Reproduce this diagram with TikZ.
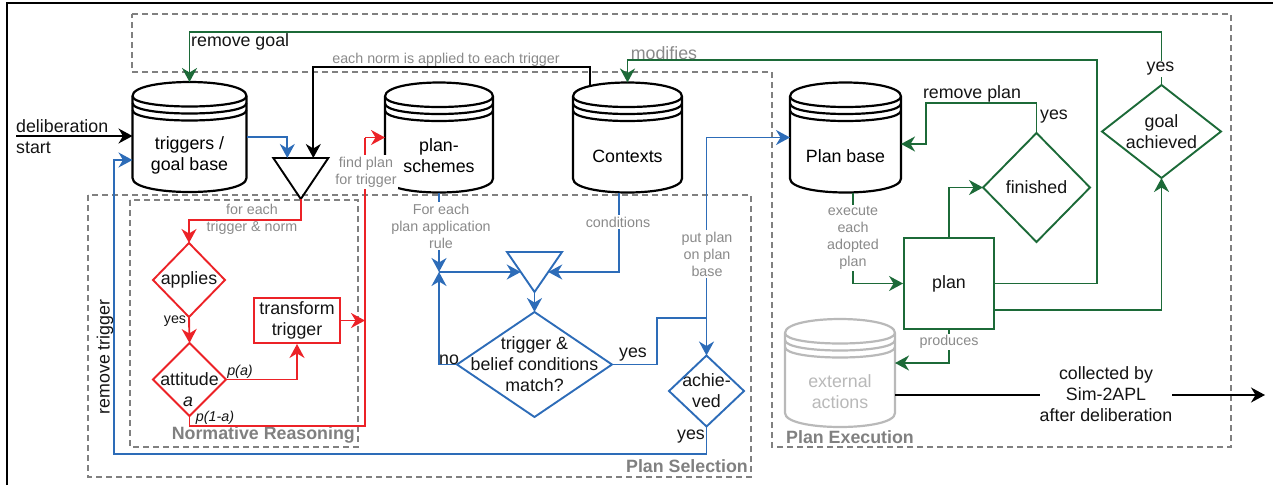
\documentclass[tikz,border=0pt]{standalone}
\usepackage{fontspec}
\setmainfont{Liberation Sans}
\usetikzlibrary{arrows.meta,calc}

\definecolor{cgreen}{RGB}{28,106,56}
\definecolor{cblue}{RGB}{45,108,184}
\definecolor{cred}{RGB}{236,34,39}
\definecolor{cgray}{RGB}{128,128,128}
\definecolor{clabel}{RGB}{138,138,138}
\definecolor{cpale}{RGB}{185,185,185}
\definecolor{ctext}{RGB}{20,20,20}

\newcommand\bigfont{\fontsize{17.8}{21}\selectfont}
\newcommand\smallfont{\fontsize{14.3}{17}\selectfont}

\tikzset{
  slot/.style={rectangle, draw=none, inner sep=0pt, outer sep=0pt},
  storetext/.style={font=\bigfont, align=center, inner sep=0pt},
  txt/.style={font=\bigfont, text=ctext, inner sep=1pt, align=center},
  lbl/.style={font=\smallfont, text=clabel, align=center, inner sep=1.5pt},
  region/.style={draw=cgray, line width=1.7pt, dash pattern=on 6pt off 4pt},
  regiontitle/.style={font=\bigfont\bfseries, text=cgray, inner sep=0pt},
  plain/.style={line width=1.9pt, line join=miter},
  flow/.style={plain, -{Stealth[length=14pt,width=15pt,inset=4.5pt]}},
  outline/.style={line width=1.9pt, line join=miter},
}

% data store drum: invisible slot node, drum outline, text set below the rims
\newcommand\datastore[6][black]{%
  \node[slot, minimum width=#4, minimum height=#5] (#2) at #3 {};
  \filldraw[fill=white, draw=#1, line width=2.2pt]
    ($(#2.north west)+(0,14)$) .. controls ($(#2.north west)+(0,-4.67)$) and ($(#2.north east)+(0,-4.67)$) .. ($(#2.north east)+(0,14)$)
    -- ($(#2.south east)+(0,-14)$) .. controls ($(#2.south east)+(0,4.67)$) and ($(#2.south west)+(0,4.67)$) .. ($(#2.south west)+(0,-14)$) -- cycle;
  \foreach \k in {0,7,14}{
    \draw[#1, line width=2.2pt] ($(#2.north west)+(0,14+\k)$) .. controls ($(#2.north west)+(0,28+\k)$) and ($(#2.north east)+(0,28+\k)$) .. ($(#2.north east)+(0,14+\k)$);}
  \node[storetext, text=#1] (#2-text) at ($(#2.center)+(0,18.5)$) {#6};
}
% decision rhombus through the four side midpoints of a slot node
\newcommand\rhomb[2][black]{\draw[outline, #1] (#2.north) -- (#2.east) -- (#2.south) -- (#2.west) -- cycle;}
% downward merge triangle
\newcommand\merge[2][black]{\draw[outline, #1] (#2.north west) -- (#2.north east) -- (#2.south) -- cycle;}

\begin{document}
\begin{tikzpicture}[x=1pt, y=-1pt]
\useasboundingbox (0,0) rectangle (1273,485);

% page frame
\draw[line width=2.5pt] (7,485) -- (7,3) -- (1273,3);

% regions
\draw[region] (132,14) -- (1231,14) -- (1231,447) -- (772,447) -- (772,72) -- (132,72) -- cycle;
\draw[region] (88,195) rectangle (751,477);
\draw[region] (130,200) rectangle (358,447);
\node[regiontitle, anchor=east] (t-norm) at (355,435) {Normative Reasoning};
\node[regiontitle, anchor=east] (t-sel) at (748,466) {Plan Selection};
\node[regiontitle, anchor=west] (t-exec) at (786,437) {Plan Execution};

% data stores
\datastore{tgb}{(189.5,137)}{114}{110}{triggers /\\goal base}
\datastore{ps}{(439,137.5)}{108}{110}{plan-\\schemes}
\datastore{ctx}{(627.5,137.5)}{109}{110}{Contexts}
\datastore{pb}{(845.5,137.5)}{111}{110}{Plan base}
\datastore[cpale]{ea}{(840,373)}{110}{108}{external\\actions}

% merge points
\node[slot, minimum width=55, minimum height=41] (tri) at (300.8,178.5) {};
\merge{tri}
\node[slot, minimum width=55, minimum height=40] (tri2) at (534.5,272) {};
\merge[cblue]{tri2}

% decisions
\node[slot, txt, inner sep=0pt, minimum width=72, minimum height=74] (app) at (189,280) {applies};
\rhomb[cred]{app}
\node[slot, txt, inner sep=0pt, minimum width=73, minimum height=73] (att) at (189.5,379.5) {attitude};
\rhomb[cred]{att}
\node[txt, font=\bigfont\itshape] (att-a) at (188,402) {a};
\node[slot, txt, inner sep=0pt, minimum width=155, minimum height=105] (mat) at (534.5,364.5) {trigger \&\\belief conditions\\match?};
\rhomb[cblue]{mat}
\node[slot, txt, inner sep=0pt, minimum width=75, minimum height=71] (ach) at (706.5,391) {achie-\\ved};
\rhomb[cblue]{ach}
\node[slot, txt, inner sep=0pt, minimum width=107, minimum height=109] (fin) at (1036.5,187.5) {finished};
\rhomb[cgreen]{fin}
\node[slot, txt, inner sep=0pt, minimum width=119, minimum height=93] (ga) at (1161.5,131.5) {goal\\achieved};
\rhomb[cgreen]{ga}

% processes
\node[txt, draw=cred, line width=1.9pt, inner sep=0pt, minimum width=86, minimum height=45] (tt) at (297,320.5) {transform\\trigger};
\node[txt, draw=cgreen, line width=1.9pt, inner sep=0pt, minimum width=90, minimum height=91] (plan) at (949,283.5) {plan};

% free ends and bends
\coordinate (ds) at (16,136);
\coordinate (j) at (439,272);
\coordinate (split) at (706.5,318);
\coordinate (rt) at (365,137.5);
\coordinate (out) at (1265,395);

% green: plan execution
\draw[flow, cgreen] (ga.north) |- ($(tgb.north)+(0,-50)$) -- (tgb.north);
\draw[flow, cgreen] (plan.east) -| (1097,60) -| (ctx.north);
\draw[flow, cgreen] ($(plan.east)+(0,26.5)$) -| (ga.south);
\draw[flow, cgreen] (plan.north) |- (fin.west);
\draw[flow, cgreen] (fin.north) |- (926,103) |- ($(pb.east)+(0,6.5)$);
\draw[flow, cgreen] ($(pb.south)+(7.5,0)$) |- (plan.west);
\draw[flow, cgreen] (plan.south) |- ($(ea.east)+(0,-10)$);

% black
\draw[flow] (ds) -- (ds -| tgb.west);
\draw[flow] ($(ctx.north)+(-37.5,3.4)$) |- ($(tri.north)+(12.5,-91)$) -- ($(tri.north)+(12.5,0)$);
\draw[flow] ($(ea.east)+(0,22)$) -- (out);

% blue: plan selection
\draw[flow, cblue] (tgb.east) -| ($(tri.north)+(-13.5,0)$);
\draw[flow, cblue] (ach.south) |- (114,454) |- ($(tgb.west)+(0,23)$);
\draw[flow, cblue] (ps.south) -- (j);
\draw[flow, cblue] (j) -- ($(tri2.north west)!0.5!(tri2.south)$);
\draw[flow, cblue] ($(ctx.south)+(-8.5,0)$) |- ($(tri2.north east)!0.5!(tri2.south)$);
\draw[flow, cblue] (tri2.south) -- (mat.north);
\draw[flow, cblue] (mat.west) -| (j);
\draw[plain, cblue] (mat.east) -| (657,318) -- (split);
\draw[flow, cblue] (split) -- (ach.north);
\draw[flow, cblue] (split) |- (pb.west);

% red: normative reasoning
\draw[flow, cred] (tri.south) |- ($(app.north)+(0,-23)$) -- (app.north);
\draw[flow, cred] (app.south) -- (att.north);
\draw[flow, cred] (att.east) -| (tt.south);
\draw[plain, cred] (att.south) |- (365,426) -- (rt);
\draw[flow, cred] (rt) -- (ps.west);
\draw[flow, cred] (tt.east) -- (tt.east -| rt);

% connector labels
\node[txt, anchor=west] (l-rg) at (190,42) {remove goal};
\node[lbl] (l-norm) at (446,60) {each norm is applied to each trigger};
\node[txt, text=clabel] (l-mod) at (664,53) {modifies};
\node[txt] (l-rp) at (972,94) {remove plan};
\node[txt] (l-yf) at (1054,117) {yes};
\node[txt, fill=white] (l-yg) at (1160.5,69) {yes};
\node[txt, anchor=west, align=left, inner sep=0pt] (l-ds) at (16,136.5) {deliberation\\start};
\node[lbl, fill=white] (l-find) at (366,172) {find plan\\for trigger};
\node[lbl] (l-each) at (252,219) {for each\\trigger \& norm};
\node[lbl, fill=white] (l-rule) at (441,226) {For each\\plan application\\rule};
\node[lbl, fill=white] (l-cond) at (618,222) {conditions};
\node[lbl, fill=white] (l-put) at (707,254) {put plan\\on plan\\base};
\node[lbl, fill=white] (l-exe) at (853,238) {execute\\each\\adopted\\plan};
\node[lbl, fill=white] (l-prod) at (949,342) {produces};
\node[txt] (l-ym) at (633,355) {yes};
\node[txt] (l-no) at (449,360) {no};
\node[txt] (l-ya) at (691,437) {yes};
\node[txt, font=\smallfont] (l-yapp) at (175,321) {yes};
\node[txt, font=\smallfont\itshape] (l-pa) at (240,372) {p(a)};
\node[txt, font=\smallfont\itshape] (l-p1a) at (215,418) {p(1-a)};
\node[txt, rotate=90] (l-rt) at (105,357) {remove trigger};
\node[txt, fill=white, inner xsep=0pt] (l-coll) at (1106,394) {collected by\\Sim-2APL\\after deliberation};
\end{tikzpicture}
\end{document}
